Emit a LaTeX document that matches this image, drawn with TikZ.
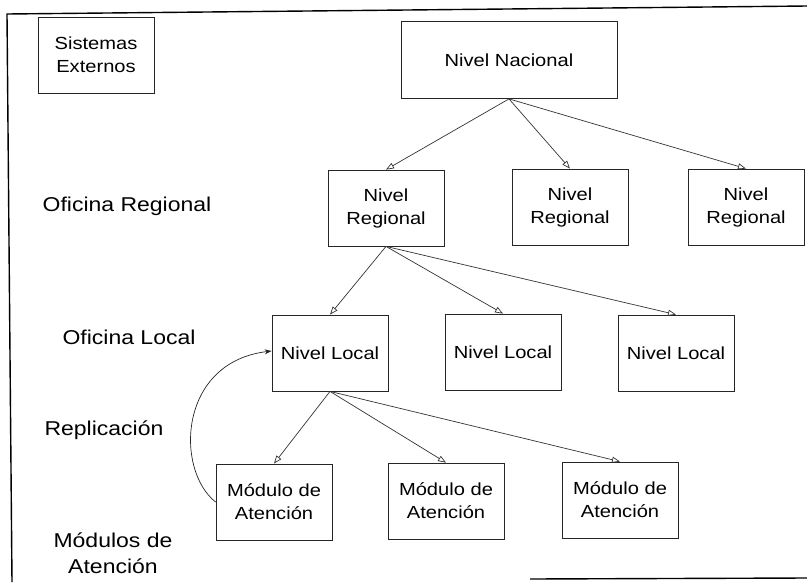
\documentclass[tikz,border=0pt]{standalone}
\usepackage{fontspec}
\setmainfont{Liberation Sans}[FakeStretch=1.15]
\usetikzlibrary{arrows.meta}
\begin{document}
\begin{tikzpicture}[x=1pt,y=-1pt,
  levelbox/.style={draw=black!85,line width=0.8pt,minimum width=116pt,minimum height=76pt,
    inner sep=0pt,align=center,font=\fontsize{17.5}{23}\selectfont},
  tierlabel/.style={align=center,inner sep=0pt,font=\fontsize{20}{26}\selectfont},
  down/.style={draw=black!80,line width=0.7pt,-{Triangle[open,length=8pt,width=6pt]}},
  replica/.style={draw=black!85,line width=0.7pt,-{Stealth[length=7pt,width=5pt]}},
  frameline/.style={draw=black,line width=1.4pt}]
\useasboundingbox (0,0) rectangle (807,582);

% outer frame (open at the right and partly at the bottom)
\coordinate (ftl) at (7,14);
\coordinate (ftr) at (807,6);
\coordinate (fbl) at (12,582);
\coordinate (fbm) at (530,579);
\coordinate (fbr) at (807,578);
\draw[frameline] (fbl) -- (ftl) -- (ftr);
\draw[frameline] (fbm) -- (fbr);

% boxes
\node[levelbox] (ext) at (96,55) {Sistemas\\Externos};
\node[levelbox,minimum width=216pt,minimum height=77pt] (nac) at (509,60) {Nivel Nacional};

\node[levelbox] (reg1) at (386,208) {Nivel\\Regional};
\node[levelbox] (reg2) at (570,207) {Nivel\\Regional};
\node[levelbox] (reg3) at (746,207) {Nivel\\Regional};

\node[levelbox] (loc1) at (330,353) {Nivel Local};
\node[levelbox] (loc2) at (503,352) {Nivel Local};
\node[levelbox] (loc3) at (676,353) {Nivel Local};

\node[levelbox] (mod1) at (274,502) {Módulo de\\Atención};
\node[levelbox] (mod2) at (446,501) {Módulo de\\Atención};
\node[levelbox] (mod3) at (620,500) {Módulo de\\Atención};

% tier labels
\node[tierlabel] (lreg) at (127,206) {Oficina Regional};
\node[tierlabel] (lloc) at (129,337) {Oficina Local};
\node[tierlabel] (lrep) at (104,430) {Replicación};
\node[tierlabel] (lmod) at (113,553) {Módulos de\\Atención};

% hierarchy connectors
\foreach \c in {reg1,reg2,reg3} \draw[down] (nac.south) -- (\c.north);
\foreach \c in {loc1,loc2,loc3} \draw[down] (reg1.south) -- (\c.north);
\foreach \c in {mod1,mod2,mod3} \draw[down] (loc1.south) -- (\c.north);

% replication loop
\draw[replica] (mod1.west) .. controls (175,470) and (178,362) .. ([yshift=2pt]loc1.west);
\end{tikzpicture}
\end{document}
